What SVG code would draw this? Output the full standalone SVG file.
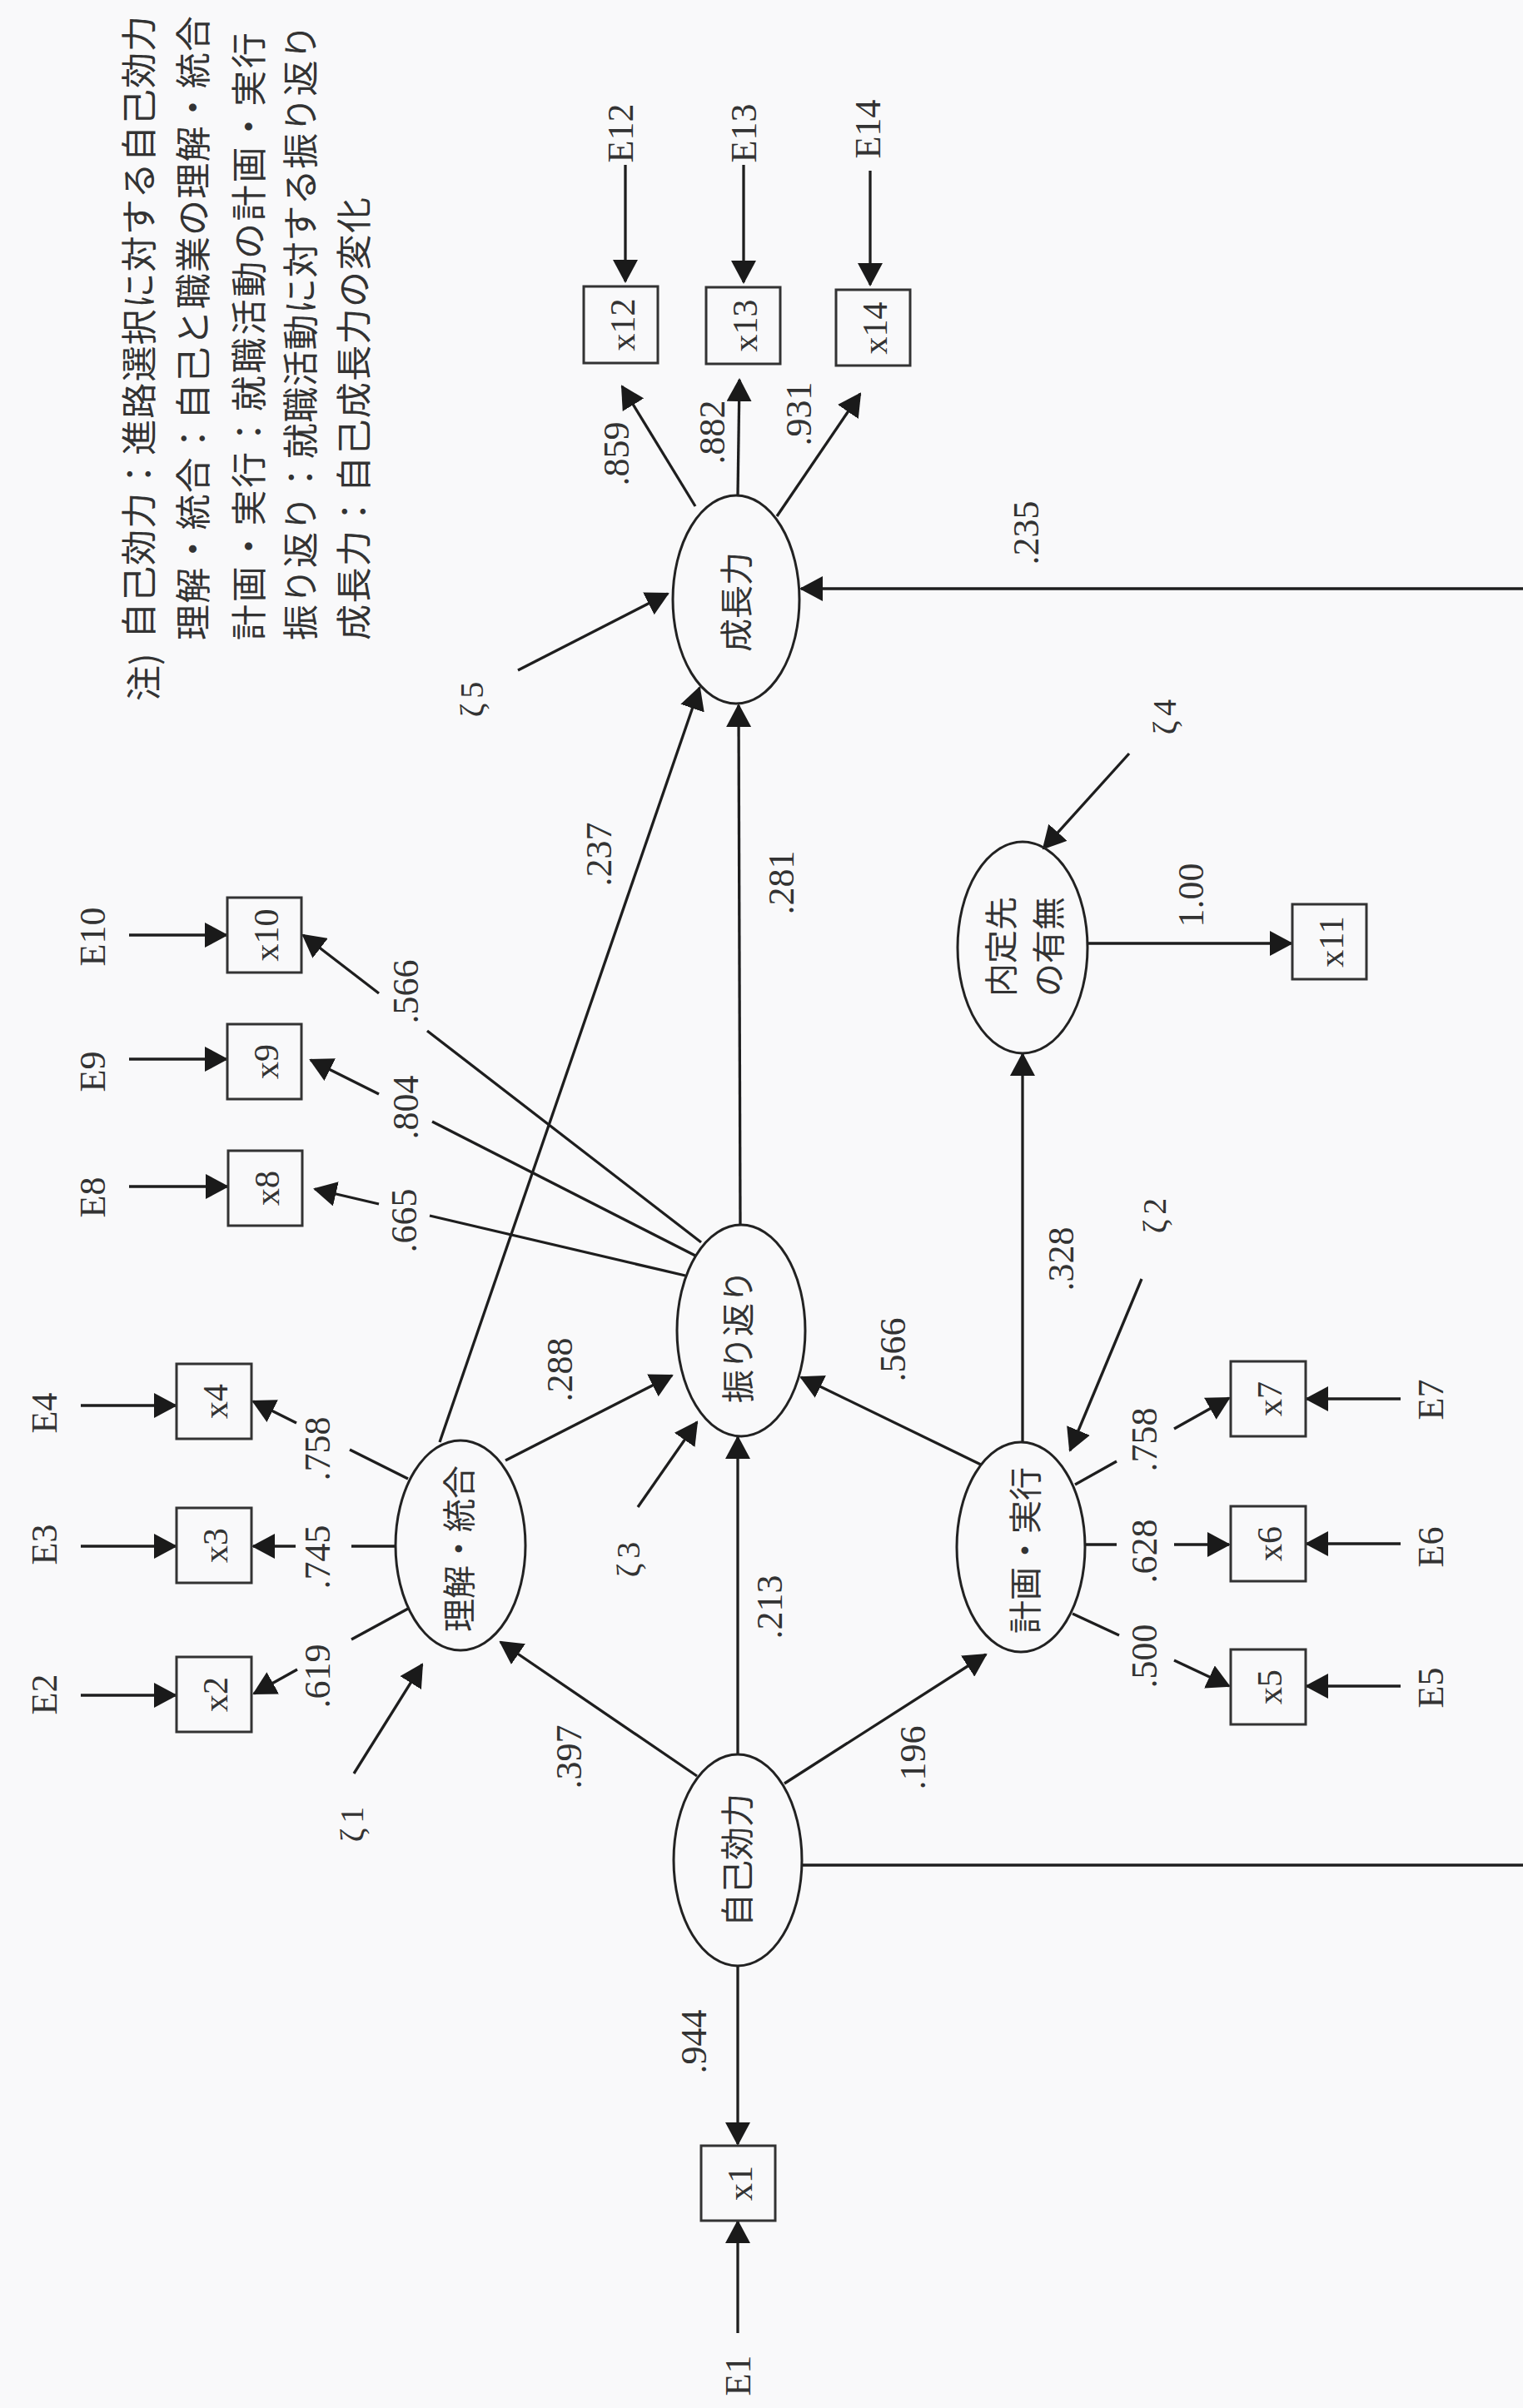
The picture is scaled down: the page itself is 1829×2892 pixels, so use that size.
<svg xmlns="http://www.w3.org/2000/svg" width="1829" height="2892" viewBox="0 0 1829 2892">
<defs>
<style>
.lat{fill:none;stroke:#222;stroke-width:3}
.obs{fill:none;stroke:#333;stroke-width:3}
.c line,.c path{fill:none;stroke:#1e1e1e;stroke-width:3.3}
.a{marker-end:url(#ah)}
.jp{font-family:"Noto Sans CJK JP","Noto Sans CJK SC",sans-serif;font-size:40px;fill:#333}
.ser{font-family:"Liberation Serif",serif;font-size:44px;fill:#333}
.bx{font-family:"Liberation Serif",serif;font-size:42px;fill:#333}
.r{text-anchor:middle;dominant-baseline:central}
.n{font-family:"Noto Sans CJK JP","Noto Sans CJK SC",sans-serif;font-size:43px;fill:#333;dominant-baseline:central}
</style>
<marker id="ah" markerUnits="userSpaceOnUse" viewBox="0 0 28 30" markerWidth="28" markerHeight="30" refX="26" refY="15" orient="auto">
<path d="M0,0 L28,15 L0,30 z" fill="#1a1a1a"/>
</marker>
</defs>
<rect x="0" y="0" width="1829" height="2892" fill="#f9f9fa"/>

<g id="note">
<text class="n" transform="translate(170 842) rotate(-90)">注)</text>
<text class="n" transform="translate(164 767) rotate(-90)" textLength="748" lengthAdjust="spacing">自己効力：進路選択に対する自己効力</text>
<text class="n" transform="translate(229 769) rotate(-90)" textLength="750" lengthAdjust="spacing">理解・統合：自己と職業の理解・統合</text>
<text class="n" transform="translate(296 769) rotate(-90)" textLength="730" lengthAdjust="spacing">計画・実行：就職活動の計画・実行</text>
<text class="n" transform="translate(358 769) rotate(-90)" textLength="740" lengthAdjust="spacing">振り返り：就職活動に対する振り返り</text>
<text class="n" transform="translate(422 769) rotate(-90)" textLength="532" lengthAdjust="spacing">成長力：自己成長力の変化</text>
</g>

<g id="connectors" class="c">
<!-- error arrows -->
<line class="a" x1="886" y1="2802" x2="886" y2="2668"/>
<line class="a" x1="97" y1="2036" x2="211" y2="2036"/>
<line class="a" x1="97" y1="1857" x2="211" y2="1857"/>
<line class="a" x1="97" y1="1688" x2="211" y2="1688"/>
<line class="a" x1="1682" y1="2025" x2="1569" y2="2025"/>
<line class="a" x1="1682" y1="1854" x2="1569" y2="1854"/>
<line class="a" x1="1682" y1="1680" x2="1569" y2="1680"/>
<line class="a" x1="155" y1="1425" x2="273" y2="1425"/>
<line class="a" x1="155" y1="1272" x2="272" y2="1272"/>
<line class="a" x1="155" y1="1123" x2="272" y2="1123"/>
<line class="a" x1="751" y1="198" x2="751" y2="338"/>
<line class="a" x1="893" y1="198" x2="893" y2="339"/>
<line class="a" x1="1045" y1="205" x2="1045" y2="342"/>
<!-- disturbance arrows -->
<line class="a" x1="425" y1="2130" x2="507" y2="1999"/>
<line class="a" x1="766" y1="1810" x2="837" y2="1708"/>
<line class="a" x1="1371" y1="1536" x2="1285" y2="1742"/>
<line class="a" x1="1356" y1="905" x2="1253" y2="1019"/>
<line class="a" x1="622" y1="805" x2="802" y2="713"/>
<!-- structural paths -->
<line class="a" x1="886" y1="2361" x2="886" y2="2575"/>
<line class="a" x1="837" y1="2133" x2="601" y2="1972"/>
<line class="a" x1="886" y1="2107" x2="886" y2="1726"/>
<line class="a" x1="942" y1="2142" x2="1184" y2="1987"/>
<path class="a" d="M963 2240 H1860 V707 H962"/>
<line class="a" x1="607" y1="1754" x2="807" y2="1652"/>
<line class="a" x1="528" y1="1732" x2="840" y2="826"/>
<line class="a" x1="1178" y1="1759" x2="962" y2="1654"/>
<line class="a" x1="1228" y1="1731" x2="1228" y2="1266"/>
<line class="a" x1="889" y1="1471" x2="887" y2="847"/>
<line class="a" x1="1306" y1="1133" x2="1551" y2="1133"/>
<!-- loadings: 成長力 -->
<line class="a" x1="835" y1="608" x2="747" y2="464"/>
<line class="a" x1="886" y1="595" x2="888" y2="456"/>
<line class="a" x1="933" y1="620" x2="1033" y2="473"/>
<!-- loadings: 理解・統合 -->
<line x1="490" y1="1776" x2="420" y2="1741"/>
<line class="a" x1="356" y1="1709" x2="304" y2="1683"/>
<line x1="475" y1="1857" x2="422" y2="1857"/>
<line class="a" x1="355" y1="1857" x2="304" y2="1857"/>
<line x1="490" y1="1932" x2="422" y2="1969"/>
<line class="a" x1="357" y1="2005" x2="305" y2="2034"/>
<!-- loadings: 計画・実行 -->
<line x1="1291" y1="1783" x2="1341" y2="1755"/>
<line class="a" x1="1410" y1="1716" x2="1476" y2="1679"/>
<line x1="1303" y1="1855" x2="1341" y2="1855"/>
<line class="a" x1="1410" y1="1855" x2="1476" y2="1855"/>
<line x1="1288" y1="1938" x2="1344" y2="1964"/>
<line class="a" x1="1410" y1="1994" x2="1476" y2="2025"/>
<!-- loadings: 振り返り -->
<line x1="842" y1="1492" x2="513" y2="1238"/>
<line class="a" x1="455" y1="1193" x2="364" y2="1123"/>
<line x1="835" y1="1508" x2="519" y2="1347"/>
<line class="a" x1="455" y1="1314" x2="373" y2="1273"/>
<line x1="823" y1="1532" x2="516" y2="1460"/>
<line class="a" x1="455" y1="1446" x2="378" y2="1428"/>
</g>

<g id="latent_self_efficacy"><ellipse class="lat" cx="886" cy="2234" rx="77" ry="127"/><text class="jp r" transform="translate(883 2234) rotate(-90)">自己効力</text></g>
<g id="latent_understanding"><ellipse class="lat" cx="553" cy="1856" rx="78" ry="126"/><text class="jp r" transform="translate(549 1860) rotate(-90)">理解・統合</text></g>
<g id="latent_planning"><ellipse class="lat" cx="1226" cy="1858" rx="77" ry="126"/><text class="jp r" transform="translate(1229 1862) rotate(-90)">計画・実行</text></g>
<g id="latent_reflection"><ellipse class="lat" cx="890" cy="1598" rx="77" ry="127"/><text class="jp r" transform="translate(884 1605) rotate(-90)">振り返り</text></g>
<g id="latent_growth"><ellipse class="lat" cx="884" cy="720" rx="76" ry="125"/><text class="jp r" transform="translate(882 723) rotate(-90)">成長力</text></g>
<g id="latent_offer"><ellipse class="lat" cx="1228" cy="1138" rx="78" ry="127"/><text class="jp r" transform="translate(1200 1137) rotate(-90)">内定先</text><text class="jp r" transform="translate(1257 1137) rotate(-90)">の有無</text></g>

<g id="x1"><rect class="obs" x="842" y="2577" width="89" height="90"/><text class="bx r" transform="translate(889 2622) rotate(-90)">x1</text></g>
<g id="x2"><rect class="obs" x="212" y="1990" width="90" height="90"/><text class="bx r" transform="translate(259 2035) rotate(-90)">x2</text></g>
<g id="x3"><rect class="obs" x="212" y="1811" width="90" height="90"/><text class="bx r" transform="translate(259 1856) rotate(-90)">x3</text></g>
<g id="x4"><rect class="obs" x="212" y="1638" width="90" height="90"/><text class="bx r" transform="translate(259 1683) rotate(-90)">x4</text></g>
<g id="x5"><rect class="obs" x="1478" y="1981" width="90" height="90"/><text class="bx r" transform="translate(1525 2026) rotate(-90)">x5</text></g>
<g id="x6"><rect class="obs" x="1478" y="1809" width="90" height="90"/><text class="bx r" transform="translate(1525 1854) rotate(-90)">x6</text></g>
<g id="x7"><rect class="obs" x="1478" y="1635" width="90" height="90"/><text class="bx r" transform="translate(1525 1680) rotate(-90)">x7</text></g>
<g id="x8"><rect class="obs" x="274" y="1382" width="89" height="90"/><text class="bx r" transform="translate(321 1427) rotate(-90)">x8</text></g>
<g id="x9"><rect class="obs" x="273" y="1230" width="89" height="90"/><text class="bx r" transform="translate(320 1275) rotate(-90)">x9</text></g>
<g id="x10"><rect class="obs" x="273" y="1078" width="89" height="90"/><text class="bx r" transform="translate(320 1123) rotate(-90)">x10</text></g>
<g id="x11"><rect class="obs" x="1552" y="1086" width="89" height="90"/><text class="bx r" transform="translate(1599 1131) rotate(-90)">x11</text></g>
<g id="x12"><rect class="obs" x="701" y="344" width="89" height="92"/><text class="bx r" transform="translate(748 390) rotate(-90)">x12</text></g>
<g id="x13"><rect class="obs" x="848" y="345" width="89" height="92"/><text class="bx r" transform="translate(895 391) rotate(-90)">x13</text></g>
<g id="x14"><rect class="obs" x="1004" y="348" width="89" height="91"/><text class="bx r" transform="translate(1051 394) rotate(-90)">x14</text></g>

<g id="errors" class="ser">
<text class="r" transform="translate(886 2853) rotate(-90)">E1</text>
<text class="r" transform="translate(53 2035) rotate(-90)">E2</text>
<text class="r" transform="translate(53 1855) rotate(-90)">E3</text>
<text class="r" transform="translate(53 1697) rotate(-90)">E4</text>
<text class="r" transform="translate(1718 2027) rotate(-90)">E5</text>
<text class="r" transform="translate(1718 1858) rotate(-90)">E6</text>
<text class="r" transform="translate(1718 1681) rotate(-90)">E7</text>
<text class="r" transform="translate(111 1438) rotate(-90)">E8</text>
<text class="r" transform="translate(111 1287) rotate(-90)">E9</text>
<text class="r" transform="translate(111 1125) rotate(-90)">E10</text>
<text class="r" transform="translate(745 160) rotate(-90)">E12</text>
<text class="r" transform="translate(893 160) rotate(-90)">E13</text>
<text class="r" transform="translate(1042 155) rotate(-90)">E14</text>
</g>

<g id="disturbances" class="ser" style="font-size:40px">
<text class="r" transform="translate(422 2188) rotate(-90)" letter-spacing="6">ζ1</text>
<text class="r" transform="translate(1386 1457) rotate(-90)" letter-spacing="6">ζ2</text>
<text class="r" transform="translate(754 1870) rotate(-90)" letter-spacing="6">ζ3</text>
<text class="r" transform="translate(1398 858) rotate(-90)" letter-spacing="6">ζ4</text>
<text class="r" transform="translate(566 837) rotate(-90)" letter-spacing="6">ζ5</text>
</g>

<g id="coefficients" class="ser">
<text class="r" transform="translate(833 2452) rotate(-90)">.944</text>
<text class="r" transform="translate(683 2110) rotate(-90)">.397</text>
<text class="r" transform="translate(924 1930) rotate(-90)">.213</text>
<text class="r" transform="translate(1096 2111) rotate(-90)">.196</text>
<text class="r" transform="translate(381 2013) rotate(-90)">.619</text>
<text class="r" transform="translate(381 1870) rotate(-90)">.745</text>
<text class="r" transform="translate(381 1740) rotate(-90)">.758</text>
<text class="r" transform="translate(672 1645) rotate(-90)">.288</text>
<text class="r" transform="translate(1072 1621) rotate(-90)">.566</text>
<text class="r" transform="translate(1374 1989) rotate(-90)">.500</text>
<text class="r" transform="translate(1374 1863) rotate(-90)">.628</text>
<text class="r" transform="translate(1374 1729) rotate(-90)">.758</text>
<text class="r" transform="translate(1274 1512) rotate(-90)">.328</text>
<text class="r" transform="translate(485 1466) rotate(-90)">.665</text>
<text class="r" transform="translate(487 1330) rotate(-90)">.804</text>
<text class="r" transform="translate(487 1191) rotate(-90)">.566</text>
<text class="r" transform="translate(719 1026) rotate(-90)">.237</text>
<text class="r" transform="translate(938 1060) rotate(-90)">.281</text>
<text class="r" transform="translate(1430 1075) rotate(-90)">1.00</text>
<text class="r" transform="translate(1232 640) rotate(-90)">.235</text>
<text class="r" transform="translate(740 545) rotate(-90)">.859</text>
<text class="r" transform="translate(855 519) rotate(-90)">.882</text>
<text class="r" transform="translate(959 497) rotate(-90)">.931</text>
</g>
</svg>
